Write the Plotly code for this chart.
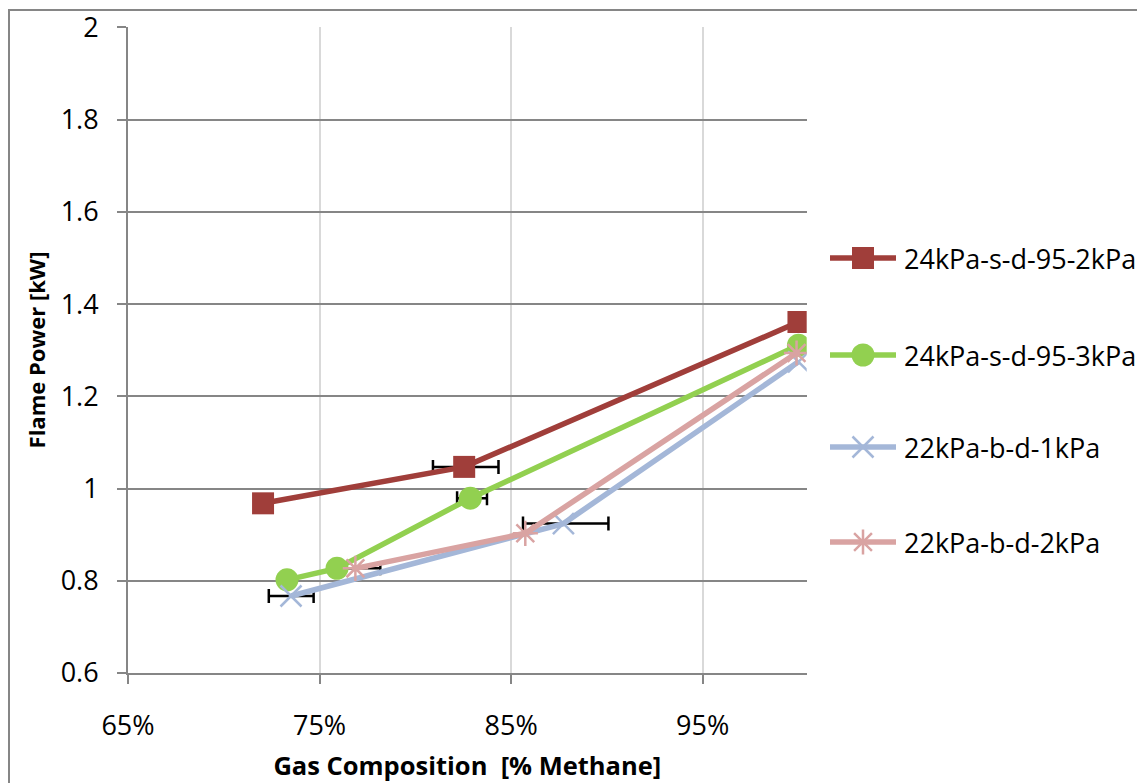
import plotly.graph_objects as go

# ---- Data (x = methane fraction, y = flame power in kW) ----
red_x = [0.7205, 0.8255, 1.000]
red_y = [0.968, 1.047, 1.361]
green_x = [0.7330, 0.7591, 0.8287, 1.000]
green_y = [0.802, 0.827, 0.979, 1.311]
blue_x = [0.7351, 0.8773, 1.000]
blue_y = [0.767, 0.924, 1.275]
pink_x = [0.7687, 0.8574, 0.999]
pink_y = [0.827, 0.903, 1.294]

# Horizontal error bars on selected points
err_x = [0.8263, 0.8296, 0.7352, 0.8785, 0.7687]
err_y = [1.047, 0.979, 0.767, 0.924, 0.827]
err_dx = [0.0171, 0.0078, 0.0117, 0.0223, 0.0130]

names = ["24kPa-s-d-95-2kPa", "24kPa-s-d-95-3kPa", "22kPa-b-d-1kPa", "22kPa-b-d-2kPa"]
y_ticks = [0.6, 0.8, 1.0, 1.2, 1.4, 1.6, 1.8, 2.0]
y_ticktext = ["0.6", "0.8", "1", "1.2", "1.4", "1.6", "1.8", "2"]
x_ticks = [0.65, 0.75, 0.85, 0.95]
x_ticktext = ["65%", "75%", "85%", "95%"]

colors = ["#A03E3A", "#92D050", "#A4B7D8", "#D9A3A2"]
symbols = ["square", "circle", "x-thin", "asterisk"]
msizes = [22, 23, 21, 21]

# legend layout (screen-pixel coordinates on the hidden legend axis)
leg_y = [258, 355, 447, 542]
leg_x0, leg_xm, leg_x1, leg_tx = 830, 863, 896, 902

FONT = "Open Sans"
series = [(red_x, red_y), (green_x, green_y), (blue_x, blue_y), (pink_x, pink_y)]

fig = go.Figure()

fig.add_trace(go.Scatter(
    x=err_x, y=err_y, mode="markers",
    marker=dict(size=1, color="rgba(0,0,0,0)"),
    error_x=dict(type="data", array=err_dx, visible=True, color="black", thickness=2.5, width=7),
    showlegend=False, hoverinfo="skip"))

def mk(i):
    m = dict(symbol=symbols[i], size=msizes[i], color=colors[i])
    if symbols[i] in ("x-thin", "asterisk"):
        m["line"] = dict(color=colors[i], width=2.5)
    return m

for i, (xs, ys) in enumerate(series):
    fig.add_trace(go.Scatter(
        x=xs, y=ys, name=names[i], mode="lines+markers",
        line=dict(color=colors[i], width=5.5), marker=mk(i), showlegend=False))

# manual legend (long symbol lines like the original)
for i in range(4):
    fig.add_trace(go.Scatter(
        x=[leg_x0, leg_x1], y=[leg_y[i], leg_y[i]], mode="lines",
        line=dict(color=colors[i], width=5.5), xaxis="x2", yaxis="y2",
        showlegend=False, hoverinfo="skip", cliponaxis=False))
    fig.add_trace(go.Scatter(
        x=[leg_xm], y=[leg_y[i]], mode="markers", marker=mk(i),
        xaxis="x2", yaxis="y2", showlegend=False, hoverinfo="skip", cliponaxis=False))
    fig.add_annotation(x=leg_tx, y=leg_y[i], xref="x2", yref="y2", text=names[i],
                       showarrow=False, xanchor="left", yanchor="middle",
                       font=dict(size=27, family=FONT, color="black"))

W, H = 1137, 775
L, T, B, R = 120, 19, 110, 0
pw = W - L - R
ph = H - T - B
dom = 678.7 / pw

fig.update_layout(
    width=W, height=H,
    margin=dict(l=L, r=R, t=T, b=B),
    paper_bgcolor="white", plot_bgcolor="white",
    font=dict(family=FONT, color="black", size=27),
    showlegend=False,
    xaxis=dict(domain=[0, dom], range=[0.65, 1.0043],
               tickmode="array", tickvals=x_ticks, ticktext=x_ticktext,
               showgrid=True, gridcolor="#D9D9D9", gridwidth=2,
               showline=True, linecolor="#868686", linewidth=2,
               ticks="outside", ticklen=9, tickcolor="#868686", tickwidth=2,
               ticklabelstandoff=19, zeroline=False, ticklabeloverflow="allow",
               tickfont=dict(size=27),
               title=dict(text="<b>Gas Composition  [% Methane]</b>", font=dict(size=25.5), standoff=15)),
    yaxis=dict(domain=[0, 1], range=[0.6, 2.001],
               tickmode="array", tickvals=y_ticks, ticktext=y_ticktext,
               showgrid=True, gridcolor="#868686", gridwidth=2,
               showline=True, linecolor="#868686", linewidth=2,
               ticks="outside", ticklen=9, tickcolor="#868686", tickwidth=2,
               ticklabelstandoff=13, zeroline=False, ticklabeloverflow="allow",
               tickfont=dict(size=27),
               title=dict(text="<b>Flame Power [kW]</b>", font=dict(size=22), standoff=9)),
    xaxis2=dict(domain=[dom, 1], range=[806.7, 1145], visible=False, fixedrange=True),
    yaxis2=dict(anchor="x2", domain=[0, 1], range=[673, 27], visible=False, fixedrange=True),
    shapes=[dict(type="rect", xref="paper", yref="paper",
                 x0=(1 - L) / pw, x1=1.5, y0=-0.5, y1=1 + (T - 2) / ph,
                 line=dict(color="#868686", width=2), fillcolor="rgba(0,0,0,0)", layer="below")],
)

fig.write_html("out.html")
